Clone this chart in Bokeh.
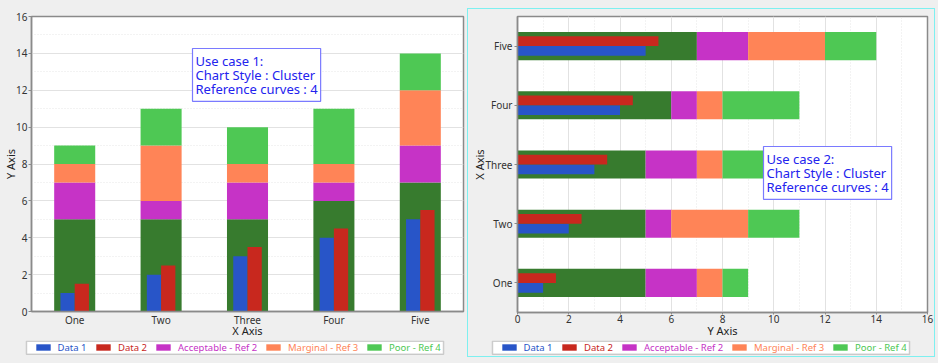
from bokeh.plotting import figure
from bokeh.layouts import row, column
from bokeh.models import (FactorRange, Range1d, Legend, LegendItem, BoxAnnotation,
                          Label, SingleIntervalTicker, ColumnDataSource)
from bokeh.transform import dodge
from bokeh.embed import file_html
from bokeh.resources import INLINE

# ---------------- data ----------------
categories = ["One", "Two", "Three", "Four", "Five"]
data1 = [1, 2, 3, 4, 5]
data2 = [1.5, 2.5, 3.5, 4.5, 5.5]
ref1 = [5, 5, 5, 6, 7]        # dark green base band
ref2 = [2, 1, 2, 1, 2]        # Acceptable - Ref 2
ref3 = [1, 3, 1, 1, 3]        # Marginal - Ref 3
ref4 = [1, 2, 2, 3, 2]        # Poor - Ref 4
value_min, value_max, value_step = 0, 16, 2
legend_labels = ["Data 1", "Data 2", "Acceptable - Ref 2", "Marginal - Ref 3", "Poor - Ref 4"]
note1 = "Use case 1:\nChart Style : Cluster\nReference curves : 4"
note2 = "Use case 2:\nChart Style : Cluster\nReference curves : 4"

# ---------------- styles ----------------
FONT = "Noto Sans"
BG = "#efefef"
C_D1 = "#2855c8"
C_D2 = "#c8281e"
C_R1 = "#377b2e"
C_R2 = "#c633c6"
C_R3 = "#ff8457"
C_R4 = "#4ec854"
ref_colors = [C_R1, C_R2, C_R3, C_R4]
legend_colors = [C_D1, C_D2, C_R2, C_R3, C_R4]
GRID = "#e2e2e2"
AXIS = "#8a8a8a"
BAND_W = 0.475
DATA_W = 0.165

# cumulative stacks
r_bot, r_top = {}, {}
acc = [0] * len(categories)
for i, seg in enumerate([ref1, ref2, ref3, ref4]):
    r_bot[i] = list(acc)
    acc = [a + s for a, s in zip(acc, seg)]
    r_top[i] = list(acc)

src = ColumnDataSource(dict(
    cats=categories, d1=data1, d2=data2,
    b0=r_bot[0], t0=r_top[0], b1=r_bot[1], t1=r_top[1],
    b2=r_bot[2], t2=r_top[2], b3=r_bot[3], t3=r_top[3],
))


def style_axis(ax, tick_out, standoff, label_standoff):
    ax.axis_line_color = AXIS
    ax.axis_line_width = 1.5
    ax.major_tick_line_color = AXIS
    ax.major_tick_out = tick_out
    ax.major_tick_in = 0
    ax.minor_tick_line_color = None
    ax.major_label_standoff = standoff
    ax.major_label_text_font = FONT
    ax.major_label_text_font_size = "10px"
    ax.major_label_text_color = "#333333"
    ax.axis_label_text_font = FONT
    ax.axis_label_text_font_size = "11px"
    ax.axis_label_text_font_style = "normal"
    ax.axis_label_text_color = "#222222"
    ax.axis_label_standoff = label_standoff


def legend_strip(width, height, box_left, box_top):
    # a frame-only strip: the legend box and items live inside its frame
    s = figure(width=width, height=height, x_range=Range1d(-width, 0), y_range=Range1d(-height, 0),
               x_axis_type=None, y_axis_type=None, title=None,
               output_backend="svg", toolbar_location=None,
               min_border=0, min_border_left=0, min_border_right=0,
               min_border_top=0, min_border_bottom=0,
               background_fill_color=BG, border_fill_color=BG)
    s.outline_line_color = None
    box_bottom = box_top - 13
    s.add_layout(BoxAnnotation(left=box_left, right=box_left + 417, bottom=box_bottom, top=box_top,
                               left_units="screen", right_units="screen",
                               top_units="screen", bottom_units="screen",
                               fill_color="white", fill_alpha=1.0,
                               line_color="#6a6a6a", line_width=1.5))
    offsets = [7.5, 68, 128, 238, 339]
    for lbl, col, off in zip(legend_labels, legend_colors, offsets):
        # swatch renderer: same data, lies outside the strip's visible range
        swatch = s.vbar(x="d1", top="d2", width=0.1, fill_color=col, line_color=None, source=src)
        lg = Legend(items=[LegendItem(label=lbl, renderers=[swatch])],
                    location=(box_left + off, box_bottom), orientation="horizontal",
                    padding=0, margin=0, spacing=0, border_line_color=None,
                    background_fill_alpha=0, glyph_width=18, glyph_height=8,
                    label_standoff=6, label_height=8,
                    label_text_font=FONT, label_text_font_size="9.5px",
                    label_text_color=col)
        s.add_layout(lg)
    return s


def add_note(p, text, x, y):
    p.add_layout(Label(x=x, y=y, x_units="screen", y_units="screen", text=text,
                       anchor="top_left", text_font=FONT, text_font_size="13px",
                       text_color="#2323ee", text_line_height=0.8, padding=3,
                       border_line_color="#7a7aff", border_line_width=1.2,
                       background_fill_color="white", background_fill_alpha=1.0))


# ---------------- left: vertical cluster ----------------
p1 = figure(x_range=FactorRange(*categories, range_padding=0),
            y_range=Range1d(value_min, value_max),
            width=467, height=340, title=None,
            output_backend="svg", toolbar_location=None,
            min_border_left=30, min_border_right=4, min_border_top=16, min_border_bottom=28,
            background_fill_color="white", border_fill_color=BG,
            x_axis_label="X Axis", y_axis_label="Y Axis")
p1.outline_line_color = AXIS
p1.outline_line_width = 1.5

for i in range(4):
    p1.vbar(x="cats", bottom="b%d" % i, top="t%d" % i, width=BAND_W,
            fill_color=ref_colors[i], line_color=None, source=src)
p1.vbar(x=dodge("cats", -DATA_W / 2, range=p1.x_range), top="d1", width=DATA_W,
        fill_color=C_D1, line_color=None, source=src)
p1.vbar(x=dodge("cats", DATA_W / 2, range=p1.x_range), top="d2", width=DATA_W,
        fill_color=C_D2, line_color=None, source=src)

tk1 = SingleIntervalTicker(interval=value_step, num_minor_ticks=2)
p1.yaxis.ticker = tk1
p1.ygrid.ticker = tk1
p1.ygrid.grid_line_color = GRID
p1.ygrid.minor_grid_line_color = "#e6e6e6"
p1.ygrid.minor_grid_line_dash = "1 2"
p1.xgrid.visible = False
style_axis(p1.yaxis[0], 3, 0, -5)
style_axis(p1.xaxis[0], 0, 1, -7)
add_note(p1, note1, 161, 263)

leg1 = legend_strip(467, 23, 26, 22.25)

# ---------------- right: horizontal cluster ----------------
p2 = figure(y_range=FactorRange(*categories, range_padding=0),
            x_range=Range1d(value_min, value_max),
            width=466, height=331, title=None,
            output_backend="svg", toolbar_location=None,
            min_border_left=49, min_border_right=7, min_border_top=7, min_border_bottom=28,
            background_fill_color="white", border_fill_color=BG,
            x_axis_label="Y Axis", y_axis_label="X Axis")
p2.outline_line_color = AXIS
p2.outline_line_width = 1.5

for i in range(4):
    p2.hbar(y="cats", left="b%d" % i, right="t%d" % i, height=BAND_W,
            fill_color=ref_colors[i], line_color=None, source=src)
p2.hbar(y=dodge("cats", -DATA_W / 2, range=p2.y_range), left=0, right="d1",
        height=DATA_W, fill_color=C_D1, line_color=None, source=src)
p2.hbar(y=dodge("cats", DATA_W / 2, range=p2.y_range), left=0, right="d2",
        height=DATA_W, fill_color=C_D2, line_color=None, source=src)

tk2 = SingleIntervalTicker(interval=value_step, num_minor_ticks=2)
p2.xaxis.ticker = tk2
p2.xgrid.ticker = tk2
p2.xgrid.grid_line_color = GRID
p2.xgrid.minor_grid_line_color = "#e6e6e6"
p2.xgrid.minor_grid_line_dash = "1 2"
p2.ygrid.visible = False
style_axis(p2.yaxis[0], 3, 2, -4)
style_axis(p2.xaxis[0], 2, -2, -3)
add_note(p2, note2, 246, 166)

leg2 = legend_strip(466, 16, 24, 15.25)

left_col = column(p1, row(leg1))
right_col = column(p2, row(leg2), margin=(9, 4, 7, 1),
                   styles={"outline": "1.5px solid #7ef0f0", "outline-offset": "0px"})
layout = row(left_col, right_col, styles={"background-color": BG})

open("out.html", "w").write(file_html(layout, INLINE))
